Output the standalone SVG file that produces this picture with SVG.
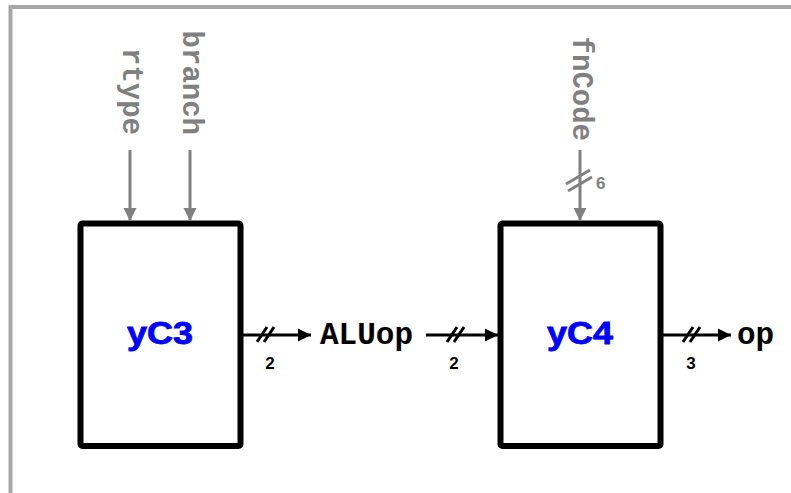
<svg xmlns="http://www.w3.org/2000/svg" width="791" height="493" viewBox="0 0 791 493">
<defs>
<style>
.frame{fill:none;stroke:#a6a6a6;stroke-width:4}
.box{fill:#fff;stroke:#000;stroke-width:6;stroke-linejoin:round}
.title{font-family:'Liberation Sans',Arial,sans-serif;font-weight:bold;font-size:31px;fill:#0000ff;stroke:#0000ff;stroke-width:0.8;text-anchor:middle}
.sig{font-family:'Liberation Mono','Courier New',monospace;font-weight:bold;font-size:31px;fill:#000}
.insig{font-family:'Liberation Mono','Courier New',monospace;font-weight:bold;font-size:29px;fill:#808080;text-anchor:end}
.w{font-family:'Liberation Sans',Arial,sans-serif;font-weight:bold;font-size:17px;fill:#000;text-anchor:middle}
.wg{font-family:'Liberation Sans',Arial,sans-serif;font-weight:bold;font-size:17px;fill:#808080}
.bl{stroke:#000;stroke-width:3;fill:none}
.gl{stroke:#808080;stroke-width:3;fill:none}
</style>
<marker id="ab" viewBox="0 0 10 10" refX="10" refY="5" markerWidth="4.5" markerHeight="4.5" markerUnits="strokeWidth" orient="auto"><path d="M0 0L10 5L0 10Z" fill="#000"/></marker>
<marker id="ag" viewBox="0 0 10 10" refX="10" refY="5" markerWidth="4.5" markerHeight="4.5" markerUnits="strokeWidth" orient="auto"><path d="M0 0L10 5L0 10Z" fill="#808080"/></marker>
</defs>
<path class="frame" d="M10.5 493V7H791"/>
<g id="yC3"><rect class="box" x="80.5" y="223.5" width="160" height="222.5" rx="2"/><text class="title" transform="translate(160,343.5) scale(1.16,1)">yC3</text></g>
<g id="yC4"><rect class="box" x="500.5" y="223.5" width="160" height="222.5" rx="2"/><text class="title" transform="translate(580,343.5) scale(1.16,1)">yC4</text></g>
<g id="labels">
<text class="insig" transform="translate(123,135) rotate(90)">rtype</text>
<text class="insig" transform="translate(183,135) rotate(90)">branch</text>
<text class="insig" transform="translate(573,141) rotate(90)">fnCode</text>
<text class="sig" x="320" y="344">ALUop</text>
<text class="sig" x="737" y="344">op</text>
<text class="w" x="270" y="369">2</text>
<text class="w" x="454" y="369">2</text>
<text class="w" x="691" y="369">3</text>
<text class="wg" x="596" y="189">6</text>
</g>
<g id="connectors">
<line class="gl" x1="130" y1="150" x2="130" y2="221" marker-end="url(#ag)"/>
<line class="gl" x1="190" y1="150" x2="190" y2="221" marker-end="url(#ag)"/>
<line class="gl" x1="580" y1="150" x2="580" y2="221" marker-end="url(#ag)"/>
<path class="gl" d="M566 184L590 170M568 191L592 177"/>
<line class="bl" x1="243" y1="335" x2="311" y2="335" marker-end="url(#ab)"/>
<path class="bl" d="M257 342L267 327M264 342L274 327"/>
<line class="bl" x1="426" y1="335" x2="498" y2="335" marker-end="url(#ab)"/>
<path class="bl" d="M447 342L457 327M454 342L464 327"/>
<line class="bl" x1="663" y1="335" x2="731" y2="335" marker-end="url(#ab)"/>
<path class="bl" d="M683 342L693 327M690 342L700 327"/>
</g>
</svg>
